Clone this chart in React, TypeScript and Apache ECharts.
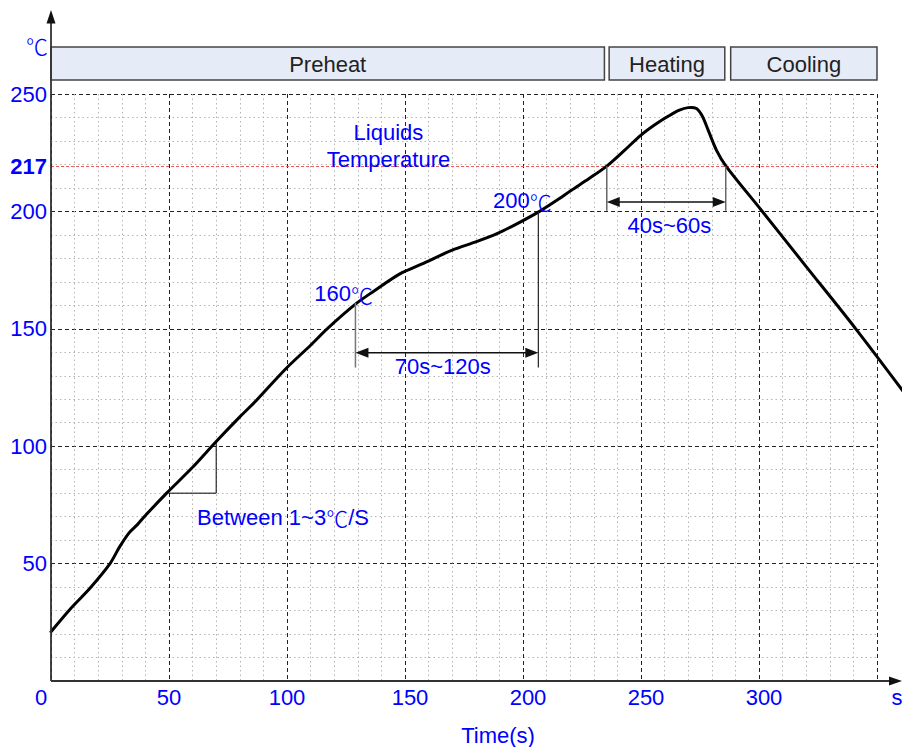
import React, { useEffect, useRef } from 'react';
import * as echarts from 'echarts';

// Reflow profile curve (time in s, temperature in ℃)
const TIME = [0, 8, 16.5, 25, 29, 33, 36.5, 40, 49, 60, 70, 80, 87, 99.5, 110, 117, 129, 136, 148, 157, 170, 180, 189, 198, 207, 214, 220.5, 228, 235.5, 243, 250, 256, 261.5, 266, 270, 273.5, 276, 278.5, 282, 286, 301, 320, 341, 361];
const TEMP = [21, 30.5, 39.5, 50, 57, 63, 66.5, 70.5, 80, 91, 102, 112.5, 119.5, 133, 143, 150, 160.5, 165.5, 173.5, 177.5, 183.5, 187, 190.5, 195, 200, 204.5, 209, 214, 219.3, 226, 232.5, 237, 240.5, 243, 244.2, 243.8, 240.5, 234.5, 226, 219.3, 200.5, 176.5, 150, 123.5];

const PHASE_NAMES = ['Preheat', 'Heating', 'Cooling'];
const PHASE_FROM = [0, 236.5, 288];
const PHASE_TO = [234.5, 285.5, 350];

// liquidus line: labelled 217, drawn at the level where the picture places it
const LIQUIDUS_LABEL = '217';
const LIQUIDUS_LEVEL = 219.2;
const SOAK_TIMES = [129, 206.5];
const SOAK_TEMPS = [161, 200];
const REFLOW_TIMES = [235.5, 285.9];
const RAMP_TIMES = [50, 70];
const RAMP_TEMPS = [80, 102];

const BLUE = '#0000ff';
const FONT = '"Liberation Sans", Arial, "Noto Sans CJK SC", sans-serif';
const CJK = '"Noto Sans CJK SC", "Noto Sans CJK JP", sans-serif';

export default function App() {
  const ref = useRef<HTMLDivElement>(null);

  useEffect(() => {
    if (!ref.current) return;
    const chart = echarts.init(ref.current, null, { renderer: 'svg' });

    const splitStyle = { show: true, lineStyle: { color: '#222', type: [4, 3], width: 1 } };
    const minorStyle = { show: true, lineStyle: { color: '#b4b4b4', type: [1.5, 3], width: 1 } };

    const option: any = {
      animation: false,
      backgroundColor: '#ffffff',
      textStyle: { fontFamily: FONT },
      grid: [
        { left: 51, top: 94, width: 826, height: 587 },
        { left: 51, top: 47, width: 826, height: 33 },
      ],
      xAxis: [
        {
          type: 'value', gridIndex: 0, min: 0, max: 350, interval: 50,
          axisLine: { show: false }, axisTick: { show: false },
          axisLabel: {
            color: BLUE, fontSize: 22, fontFamily: FONT, margin: 5,
            formatter: (v: number) => (v === 0 ? '{z|0}' : v === 350 ? '' : v >= 150 ? '{r|' + v + '}' : String(v)),
            rich: {
              z: { color: BLUE, fontSize: 22, fontFamily: FONT, padding: [0, 20, 0, 0] },
              r: { color: BLUE, fontSize: 22, fontFamily: FONT, padding: [0, 0, 0, 10] },
            },
          },
          splitLine: splitStyle,
          minorTick: { show: false, splitNumber: 5 },
          minorSplitLine: minorStyle,
        },
        { type: 'value', gridIndex: 1, min: 0, max: 350, show: false },
      ],
      yAxis: [
        {
          type: 'value', gridIndex: 0, min: 0, max: 250, interval: 50,
          axisLine: { show: false }, axisTick: { show: false },
          axisLabel: {
            color: BLUE, fontSize: 22, fontFamily: FONT, margin: 4,
            formatter: (v: number) => (v === 0 ? '' : String(v)),
          },
          splitLine: splitStyle,
          minorTick: { show: false, splitNumber: 5 },
          minorSplitLine: minorStyle,
        },
        { type: 'value', gridIndex: 1, min: 0, max: 1, show: false },
      ],
      series: [
        {
          type: 'line',
          xAxisIndex: 0, yAxisIndex: 0,
          data: [],
          silent: true,
          markLine: {
            silent: true,
            symbol: ['none', 'none'],
            data: [{ yAxis: LIQUIDUS_LEVEL }],
            lineStyle: { color: '#ee5a5a', type: [3, 2], width: 1 },
            label: {
              position: 'start', formatter: LIQUIDUS_LABEL, color: BLUE,
              fontWeight: 'bold', fontSize: 22, fontFamily: FONT, distance: 4,
            },
          },
        },
        {
          type: 'custom',
          name: 'Temperature',
          xAxisIndex: 0, yAxisIndex: 0,
          silent: true,
          clip: false,
          z: 5,
          data: [[TIME[0], TEMP[0]]],
          renderItem: (_params: any, api: any) => {
            const points = TIME.map((t, i) => api.coord([t, TEMP[i]]));
            return {
              type: 'polyline',
              shape: { points, smooth: 0.3 },
              style: { stroke: '#000', lineWidth: 3, fill: null, lineJoin: 'round', lineCap: 'round' },
            };
          },
        },
        {
          type: 'custom',
          xAxisIndex: 1, yAxisIndex: 1,
          silent: true,
          encode: { x: [0, 1] },
          data: PHASE_NAMES.map((_, i) => [PHASE_FROM[i], PHASE_TO[i]]),
          renderItem: (params: any, api: any) => {
            const a = api.coord([api.value(0), 1]);
            const b = api.coord([api.value(1), 0]);
            return {
              type: 'group',
              children: [
                {
                  type: 'rect',
                  shape: { x: a[0], y: a[1], width: b[0] - a[0], height: b[1] - a[1] },
                  style: { fill: '#e6ecf7', stroke: '#444', lineWidth: 1.5 },
                },
                {
                  type: 'text',
                  style: {
                    text: PHASE_NAMES[params.dataIndex],
                    x: (a[0] + b[0]) / 2, y: (a[1] + b[1]) / 2 + 1,
                    align: 'center', verticalAlign: 'middle',
                    fill: '#222', fontSize: 22, fontFamily: FONT,
                  },
                },
              ],
            };
          },
        },
      ],
    };

    chart.setOption(option);

    const P = (t: number, v: number) => chart.convertToPixel({ gridIndex: 0 }, [t, v]) as number[];
    const origin = P(0, 0);
    const W = 902;

    const richDeg = {
      c: { fontFamily: CJK, fontSize: 22, fill: BLUE, fontWeight: 300 },
      t: { fontFamily: FONT, fontSize: 22, fill: BLUE },
    };
    const withDeg = (s: string) =>
      s.split('℃').map((p) => (p ? '{t|' + p + '}' : '')).join('{c|℃}');

    const txt = (t: string, p: number[], align = 'center', extra: any = {}) => ({
      type: 'text', z: 10, silent: true,
      style: {
        text: t.indexOf('℃') >= 0 ? withDeg(t) : t,
        rich: richDeg,
        x: p[0], y: p[1], align, verticalAlign: 'middle', fill: BLUE, fontSize: 22, fontFamily: FONT, ...extra,
      },
    });
    const line = (p1: number[], p2: number[], stroke = '#000', lineWidth = 1.5) => ({
      type: 'line', z: 10, silent: true,
      shape: { x1: p1[0], y1: p1[1], x2: p2[0], y2: p2[1] },
      style: { stroke, lineWidth },
    });
    const dimArrow = (x1: number, x2: number, y: number) => {
      const L = 13, H = 5;
      return [
        line([x1 + 4, y], [x2 - 4, y], '#111', 1.5),
        { type: 'polygon', z: 10, silent: true, shape: { points: [[x1, y], [x1 + L, y - H], [x1 + L, y + H]] }, style: { fill: '#111' } },
        { type: 'polygon', z: 10, silent: true, shape: { points: [[x2, y], [x2 - L, y - H], [x2 - L, y + H]] }, style: { fill: '#111' } },
      ];
    };

    const s0 = P(SOAK_TIMES[0], SOAK_TEMPS[0]);
    const s1 = P(SOAK_TIMES[1], SOAK_TEMPS[1]);
    const sBottom = P(0, 133.5)[1];
    const sArrowY = P(0, 139.8)[1];
    const r0 = P(REFLOW_TIMES[0], LIQUIDUS_LEVEL);
    const r1 = P(REFLOW_TIMES[1], LIQUIDUS_LEVEL);
    const rBottom = P(0, 200.3)[1];
    const rArrowY = P(0, 204)[1];
    const q0 = P(RAMP_TIMES[0], RAMP_TEMPS[0]);
    const q1 = P(RAMP_TIMES[1], RAMP_TEMPS[0]);
    const q2 = P(RAMP_TIMES[1], RAMP_TEMPS[1]);

    const graphic: any[] = [
      line([origin[0], origin[1]], [origin[0], 22], '#333', 1.8),
      { type: 'polygon', z: 11, silent: true, shape: { points: [[origin[0], 10], [origin[0] - 4.5, 23.5], [origin[0] + 4.5, 23.5]] }, style: { fill: '#111' } },
      line([origin[0], origin[1]], [W - 12, origin[1]], '#333', 1.8),
      { type: 'polygon', z: 11, silent: true, shape: { points: [[W, origin[1]], [W - 13, origin[1] - 4.5], [W - 13, origin[1] + 4.5]] }, style: { fill: '#111' } },
      txt('℃', [37, 45]),
      txt('s', [897, 697]),
      txt('Time(s)', [498, 735]),
      txt('Liquids\nTemperature', P(143, 227.8), 'center', { lineHeight: 27 }),
      txt('200℃', P(199.7, 204.6)),
      txt('160℃', P(124, 165)),
      txt('70s~120s', P(166, 134)),
      txt('40s~60s', P(262, 194)),
      txt('Between 1~3℃/S', P(61.9, 69.8), 'left'),
      line([s0[0], s0[1]], [s0[0], sBottom], '#777', 1.5),
      line([s1[0], s1[1]], [s1[0], sBottom], '#222', 1.2),
      ...dimArrow(s0[0], s1[0], sArrowY),
      line([r0[0], r0[1]], [r0[0], rBottom], '#666', 1.5),
      line([r1[0], r1[1]], [r1[0], rBottom], '#666', 1.5),
      ...dimArrow(r0[0], r1[0], rArrowY),
      line(q0, q1, '#000', 1),
      line(q1, q2, '#000', 1),
    ];

    chart.setOption({ graphic });

    return () => chart.dispose();
  }, []);

  return (
    <div
      ref={ref}
      style={{ position: 'fixed', left: 0, top: 0, width: 902, height: 747, background: '#fff' }}
    />
  );
}
